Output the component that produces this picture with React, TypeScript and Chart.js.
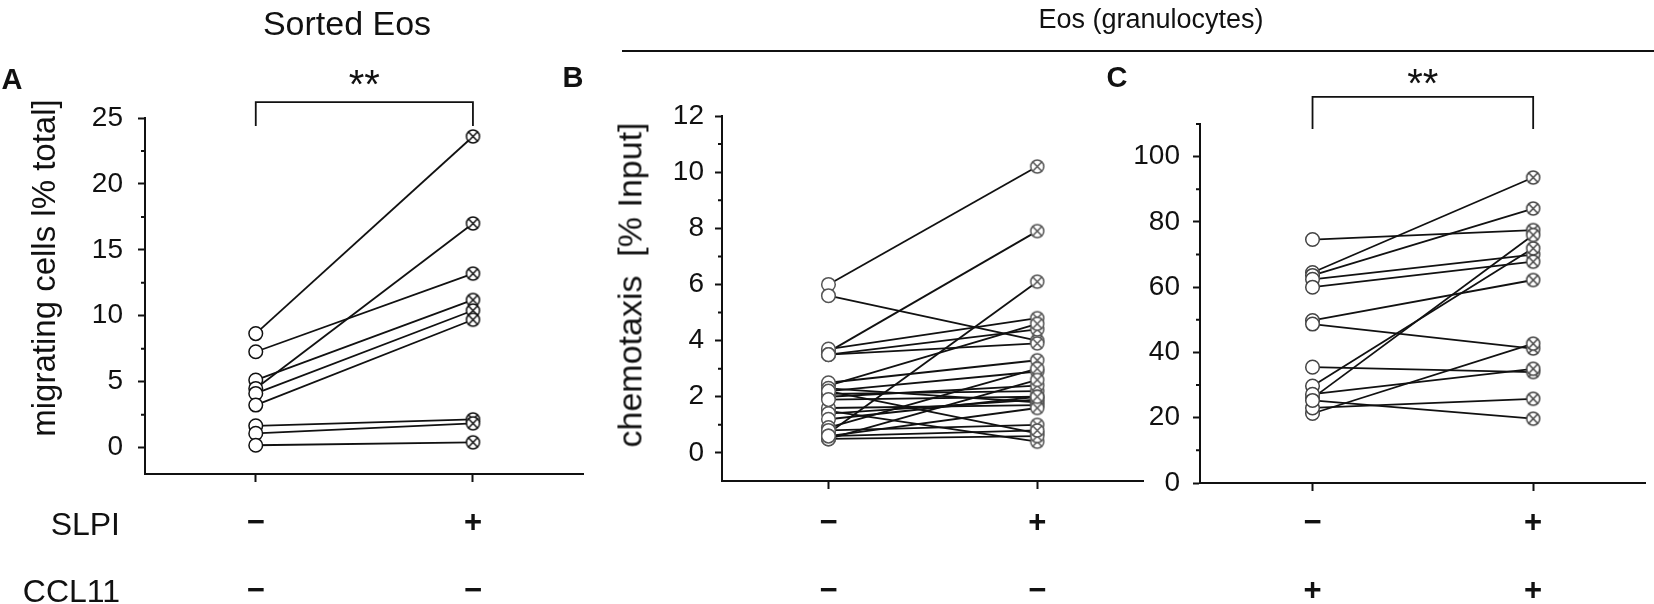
import { useEffect, useRef } from 'react';
import Chart from 'chart.js/auto';

const FONT = '"Liberation Sans", Arial, Helvetica, sans-serif';
const H = 604;

// the two conditions on every x axis
const CONDITIONS = [0, 1];
const X_MIN = -0.51;
const X_MAX = 1.51;
const ROW_LABELS = ['SLPI', 'CCL11'];

// A: sorted Eos, migrating cells [% total]
const A_BEFORE = [8.65, 7.27, 5.12, 4.49, 4.11, 3.23, 1.65, 1.08, 0.18];
const A_AFTER = [23.6, 13.2, 11.2, 17.0, 10.4, 9.7, 2.14, 1.84, 0.4];
const A_Y_MAJOR = [0, 5, 10, 15, 20, 25];
const A_Y_MINOR = [2.5, 7.5, 12.5, 17.5, 22.5];
const A_X_LABELS = [['−', '−'], ['+', '−']];

// B: Eos (granulocytes), chemotaxis [% Input], no CCL11
const B_BEFORE = [6.0, 5.6, 3.6, 0.7, 3.7, 3.5, 3.5, 2.4, 2.5, 2.2, 2.1, 2.3, 2.0, 2.2, 1.5, 1.6, 1.4, 1.2, 0.9, 0.8, 0.6, 0.5, 0.5, 0.6, 1.9];
const B_AFTER = [10.2, 4.0, 7.9, 6.1, 4.8, 4.4, 3.9, 4.6, 3.3, 2.9, 2.2, 1.8, 2.4, 0.7, 0.4, 1.7, 1.9, 2.0, 3.0, 1.0, 1.6, 0.6, 2.6, 0.8, 2.0];
const B_Y_MAJOR = [0, 2, 4, 6, 8, 10, 12];
const B_Y_MINOR = [1, 3, 5, 7, 9, 11];
const B_X_LABELS = [['−', '−'], ['+', '−']];

// C: Eos (granulocytes) with CCL11
const C_BEFORE = [74.6, 64.5, 63.6, 62.4, 60.0, 49.8, 48.7, 35.5, 29.7, 26.0, 27.2, 21.3, 23.0, 25.3];
const C_AFTER = [77.5, 93.6, 84.1, 70.0, 67.8, 62.2, 41.2, 34.0, 71.9, 76.0, 35.0, 42.7, 25.8, 19.7];
const C_Y_MAJOR = [0, 20, 40, 60, 80, 100];
const C_Y_MINOR = [10, 30, 50, 70, 90, 110];
const C_X_LABELS = [['−', '+'], ['+', '+']];

type Bracket = { top: number; leg: number; star: number };

interface PanelProps {
  left: number;
  width: number;
  axisLeft: number;
  top: number;
  axisBottom: number;
  yMin: number;
  yMax: number;
  yMajor: number[];
  yMinor: number[];
  xLabels: string[][];
  before: number[];
  after: number[];
  markerColor: string;
  yTickPad: number;
  xTickPad: number;
  bracket?: Bracket;
}

// open circle with an x inside, used for the "+" condition
function crossMarker(color: string) {
  const r = 6.5;
  const c = document.createElement('canvas');
  c.width = 17;
  c.height = 17;
  const ctx = c.getContext('2d')!;
  const m = 8.5;
  ctx.lineWidth = 1.5;
  ctx.strokeStyle = color;
  ctx.fillStyle = '#fff';
  ctx.beginPath();
  ctx.arc(m, m, r, 0, Math.PI * 2);
  ctx.fill();
  ctx.stroke();
  const d = r * 0.72;
  ctx.beginPath();
  ctx.moveTo(m - d, m - d);
  ctx.lineTo(m + d, m + d);
  ctx.moveTo(m + d, m - d);
  ctx.lineTo(m - d, m + d);
  ctx.stroke();
  return c;
}

// short minor ticks on the y axis and the significance bracket
function extrasPlugin(minor: number[], b?: Bracket) {
  return {
    id: 'extras',
    afterDraw(chart: Chart) {
      const { ctx } = chart;
      const xs = chart.scales.x;
      const ys = chart.scales.y;
      ctx.save();
      ctx.strokeStyle = '#111';
      ctx.lineWidth = 2;
      ctx.beginPath();
      minor.forEach((v) => {
        const py = ys.getPixelForValue(v);
        ctx.moveTo(ys.right - 4, py);
        ctx.lineTo(ys.right, py);
      });
      ctx.stroke();

      if (b) {
        const x0 = xs.getPixelForValue(CONDITIONS[0]);
        const x1 = xs.getPixelForValue(CONDITIONS[1]);
        const yt = ys.getPixelForValue(b.top);
        const yl = ys.getPixelForValue(b.leg);
        ctx.lineWidth = 1.8;
        ctx.beginPath();
        ctx.moveTo(x0, yl);
        ctx.lineTo(x0, yt);
        ctx.lineTo(x1, yt);
        ctx.lineTo(x1, yl);
        ctx.stroke();
        ctx.fillStyle = '#111';
        ctx.font = `40px ${FONT}`;
        ctx.textAlign = 'center';
        ctx.textBaseline = 'middle';
        ctx.fillText('**', (x0 + x1) / 2, ys.getPixelForValue(b.star));
      }
      ctx.restore();
    },
  };
}

function Panel(p: PanelProps) {
  const ref = useRef<HTMLCanvasElement | null>(null);

  useEffect(() => {
    if (!ref.current) return;
    const cross = crossMarker(p.markerColor);

    const lineSets = p.before.map((b, i) => ({
      data: [
        { x: CONDITIONS[0], y: b },
        { x: CONDITIONS[1], y: p.after[i] },
      ],
      showLine: true,
      borderColor: '#111',
      borderWidth: 1.8,
      pointRadius: 0,
      order: 1,
    }));
    const beforeSet = {
      data: p.before.map((v) => ({ x: CONDITIONS[0], y: v })),
      pointStyle: 'circle',
      pointRadius: 6.8,
      pointBorderWidth: 1.5,
      pointBackgroundColor: '#fff',
      pointBorderColor: p.markerColor,
      order: 0,
    };
    const afterSet = {
      data: p.after.map((v) => ({ x: CONDITIONS[1], y: v })),
      pointStyle: cross,
      order: 0,
    };

    const chart = new Chart(ref.current, {
      type: 'scatter',
      data: { datasets: [...lineSets, beforeSet, afterSet] as any },
      options: {
        responsive: false,
        animation: false,
        events: [],
        layout: { padding: { top: p.top, left: 0, right: 0, bottom: 0 } },
        plugins: { legend: { display: false }, tooltip: { enabled: false } },
        scales: {
          x: {
            type: 'linear',
            min: X_MIN,
            max: X_MAX,
            afterBuildTicks: (s: any) => {
              s.ticks = CONDITIONS.map((v) => ({ value: v }));
            },
            afterFit: (s: any) => {
              s.height = H - p.axisBottom;
            },
            border: { color: '#111', width: 2 },
            grid: { drawOnChartArea: false, tickLength: 8, tickWidth: 2, tickColor: '#111' },
            ticks: {
              autoSkip: false,
              maxRotation: 0,
              padding: p.xTickPad,
              color: '#111',
              font: { size: 31, family: FONT, weight: 'bold', lineHeight: 2.2 },
              callback: (_v: any, i: number) => p.xLabels[i],
            },
          },
          y: {
            type: 'linear',
            min: p.yMin,
            max: p.yMax,
            afterBuildTicks: (s: any) => {
              s.ticks = p.yMajor.map((v) => ({ value: v }));
            },
            afterFit: (s: any) => {
              s.width = p.axisLeft - p.left;
            },
            border: { color: '#111', width: 2 },
            grid: { drawOnChartArea: false, tickLength: 7, tickWidth: 2, tickColor: '#111' },
            ticks: {
              autoSkip: false,
              padding: p.yTickPad,
              color: '#111',
              font: { size: 28, family: FONT },
            },
          },
        },
      },
      plugins: [extrasPlugin(p.yMinor, p.bracket)],
    });

    return () => chart.destroy();
  }, []);

  return (
    <canvas
      ref={ref}
      width={p.width}
      height={H}
      style={{ position: 'absolute', left: p.left, top: 0 }}
    />
  );
}

function Text({ x, y, text, size, bold, right, vertical }: { x: number; y: number; text: string; size: number; bold?: boolean; right?: boolean; vertical?: boolean }) {
  let transform = 'translate(-50%, -50%)';
  if (right) transform = 'translate(-100%, -50%)';
  if (vertical) transform = 'translate(-50%, -50%) rotate(-90deg)';
  return (
    <div
      style={{
        position: 'absolute',
        left: x,
        top: y,
        transform,
        fontSize: size,
        fontWeight: bold ? 'bold' : 'normal',
        whiteSpace: 'pre',
        lineHeight: 1.15,
      }}
    >
      {text}
    </div>
  );
}

export default function App() {
  return (
    <div
      style={{
        position: 'fixed',
        left: 0,
        top: 0,
        width: 1654,
        height: H,
        background: '#fff',
        color: '#111',
        fontFamily: FONT,
        overflow: 'hidden',
      }}
    >
      <Panel
        left={0}
        width={592}
        axisLeft={145}
        top={118}
        axisBottom={474}
        yMin={-2}
        yMax={25}
        yMajor={A_Y_MAJOR}
        yMinor={A_Y_MINOR}
        xLabels={A_X_LABELS}
        before={A_BEFORE}
        after={A_AFTER}
        markerColor="#111"
        yTickPad={15}
        xTickPad={7}
        bracket={{ top: 26.2, leg: 24.4, star: 27.35 }}
      />
      <Panel
        left={590}
        width={562}
        axisLeft={722}
        top={116}
        axisBottom={481}
        yMin={-1}
        yMax={12}
        yMajor={B_Y_MAJOR}
        yMinor={B_Y_MINOR}
        xLabels={B_X_LABELS}
        before={B_BEFORE}
        after={B_AFTER}
        markerColor="#555"
        yTickPad={11}
        xTickPad={0}
      />
      <Panel
        left={1096}
        width={558}
        axisLeft={1200}
        top={124}
        axisBottom={483}
        yMin={0}
        yMax={110}
        yMajor={C_Y_MAJOR}
        yMinor={C_Y_MINOR}
        xLabels={C_X_LABELS}
        before={C_BEFORE}
        after={C_AFTER}
        markerColor="#444"
        yTickPad={13}
        xTickPad={-2}
        bracket={{ top: 118.3, leg: 108.5, star: 121.5 }}
      />

      <Text x={347} y={24} text="Sorted Eos" size={34} />
      <Text x={1151} y={20} text="Eos (granulocytes)" size={27} />
      <div style={{ position: 'absolute', left: 622, top: 50, width: 1032, height: 2, background: '#111' }} />
      <Text x={12} y={80} text="A" size={29} bold />
      <Text x={573} y={78} text="B" size={29} bold />
      <Text x={1117} y={78} text="C" size={29} bold />
      <Text x={44} y={268} text="migrating cells l% total]" size={33} vertical />
      <Text x={630} y={285} text="chemotaxis  [% Input]" size={34} vertical />
      <Text x={120} y={524} text={ROW_LABELS[0]} size={32} right />
      <Text x={120} y={591} text={ROW_LABELS[1]} size={32} right />
    </div>
  );
}
